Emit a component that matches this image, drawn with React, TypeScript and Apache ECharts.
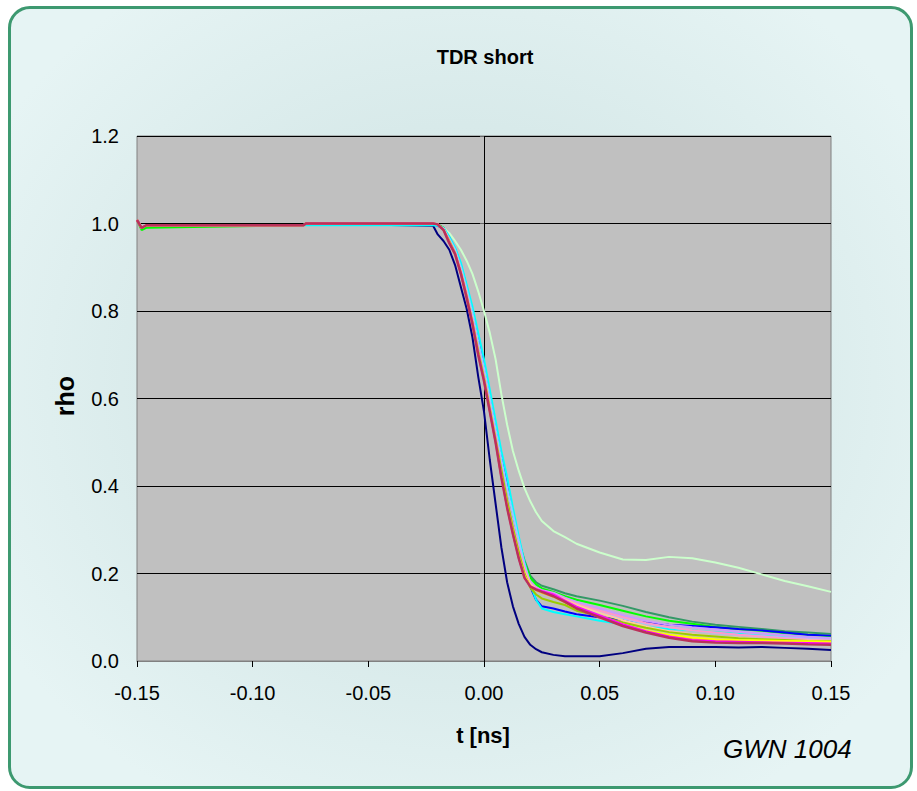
import React, { useEffect, useRef } from "react";
import * as echarts from "echarts";

const xs = [-0.15, -0.148, -0.146, -0.078, -0.077, -0.022, -0.02, -0.0175, -0.015, -0.0125, -0.01, -0.0075, -0.005, -0.0025, 0, 0.0025, 0.005, 0.0075, 0.01, 0.0125, 0.015, 0.0175, 0.02, 0.0225, 0.025, 0.03, 0.035, 0.04, 0.05, 0.06, 0.07, 0.08, 0.09, 0.1, 0.11, 0.12, 0.13, 0.14, 0.15];

const paleGreen = [1.008, 0.99, 0.996, 0.996, 1.0, 1.0, 0.998, 0.99, 0.978, 0.96, 0.94, 0.915, 0.885, 0.845, 0.8, 0.75, 0.69, 0.61, 0.54, 0.48, 0.435, 0.395, 0.365, 0.34, 0.32, 0.297, 0.283, 0.268, 0.248, 0.232, 0.231, 0.238, 0.235, 0.225, 0.213, 0.198, 0.183, 0.171, 0.158];
const navy = [1.008, 0.99, 0.996, 0.996, 1.0, 0.995, 0.975, 0.96, 0.94, 0.905, 0.855, 0.805, 0.74, 0.65, 0.57, 0.46, 0.36, 0.26, 0.18, 0.125, 0.085, 0.055, 0.037, 0.027, 0.02, 0.014, 0.011, 0.011, 0.011, 0.018, 0.028, 0.032, 0.032, 0.032, 0.031, 0.032, 0.03, 0.028, 0.025];
const seaGreen = [1.008, 0.99, 0.996, 0.996, 1.0, 1.0, 0.998, 0.99, 0.965, 0.94, 0.9, 0.85, 0.795, 0.73, 0.67, 0.6, 0.53, 0.46, 0.39, 0.33, 0.275, 0.23, 0.195, 0.18, 0.172, 0.164, 0.155, 0.148, 0.138, 0.126, 0.112, 0.1, 0.09, 0.083, 0.078, 0.073, 0.068, 0.065, 0.062];
const green = [1.008, 0.985, 0.99, 0.996, 1.0, 1.0, 0.998, 0.99, 0.962, 0.937, 0.895, 0.845, 0.79, 0.725, 0.665, 0.595, 0.525, 0.455, 0.385, 0.325, 0.27, 0.225, 0.19, 0.175, 0.166, 0.158, 0.148, 0.14, 0.128, 0.115, 0.102, 0.092, 0.085, 0.078, 0.073, 0.069, 0.064, 0.06, 0.057];
const blue = [1.008, 0.99, 0.996, 0.996, 1.0, 0.998, 0.995, 0.988, 0.968, 0.942, 0.905, 0.855, 0.8, 0.74, 0.68, 0.61, 0.54, 0.47, 0.405, 0.34, 0.275, 0.215, 0.17, 0.14, 0.125, 0.12, 0.113, 0.107, 0.1, 0.094, 0.088, 0.083, 0.08, 0.077, 0.073, 0.07, 0.065, 0.06, 0.058];
const cyan = [1.008, 0.99, 0.996, 0.996, 0.996, 0.996, 0.995, 0.99, 0.97, 0.945, 0.91, 0.86, 0.81, 0.75, 0.69, 0.62, 0.55, 0.48, 0.42, 0.35, 0.285, 0.225, 0.175, 0.14, 0.12, 0.112, 0.107, 0.102, 0.092, 0.084, 0.078, 0.073, 0.07, 0.066, 0.062, 0.058, 0.054, 0.051, 0.048];
const skyBlue = [1.008, 0.99, 0.996, 0.996, 1.0, 1.0, 0.997, 0.988, 0.965, 0.94, 0.9, 0.85, 0.795, 0.73, 0.67, 0.6, 0.53, 0.46, 0.395, 0.335, 0.275, 0.22, 0.178, 0.163, 0.156, 0.148, 0.137, 0.126, 0.111, 0.097, 0.085, 0.077, 0.07, 0.064, 0.06, 0.057, 0.054, 0.052, 0.05];
const lavender = [1.008, 0.99, 0.996, 0.996, 1.0, 1.0, 0.998, 0.988, 0.962, 0.935, 0.893, 0.84, 0.782, 0.715, 0.655, 0.585, 0.515, 0.445, 0.375, 0.315, 0.26, 0.215, 0.18, 0.168, 0.162, 0.156, 0.145, 0.135, 0.12, 0.105, 0.092, 0.083, 0.077, 0.072, 0.067, 0.063, 0.059, 0.055, 0.052];
const rose = [1.008, 0.99, 0.996, 0.996, 1.0, 1.0, 0.998, 0.987, 0.96, 0.933, 0.89, 0.837, 0.778, 0.71, 0.65, 0.58, 0.51, 0.44, 0.37, 0.31, 0.255, 0.21, 0.177, 0.166, 0.16, 0.153, 0.142, 0.131, 0.115, 0.1, 0.087, 0.077, 0.07, 0.065, 0.06, 0.056, 0.052, 0.049, 0.047];
const tan = [1.008, 0.99, 0.996, 0.996, 1.0, 1.0, 0.998, 0.987, 0.959, 0.933, 0.889, 0.835, 0.776, 0.708, 0.648, 0.578, 0.508, 0.434, 0.364, 0.304, 0.25, 0.205, 0.175, 0.165, 0.159, 0.151, 0.14, 0.128, 0.11, 0.093, 0.079, 0.068, 0.061, 0.056, 0.053, 0.05, 0.048, 0.047, 0.046];
const lime = [1.008, 0.99, 0.996, 0.996, 1.0, 1.0, 0.998, 0.986, 0.96, 0.932, 0.888, 0.835, 0.775, 0.708, 0.648, 0.578, 0.508, 0.438, 0.368, 0.305, 0.25, 0.2, 0.168, 0.152, 0.143, 0.135, 0.128, 0.115, 0.103, 0.088, 0.076, 0.066, 0.06, 0.056, 0.052, 0.05, 0.048, 0.046, 0.045];
const gold = [1.008, 0.99, 0.996, 0.996, 1.0, 1.0, 0.998, 0.986, 0.957, 0.93, 0.886, 0.831, 0.771, 0.702, 0.642, 0.572, 0.502, 0.422, 0.352, 0.292, 0.237, 0.193, 0.17, 0.162, 0.156, 0.147, 0.134, 0.12, 0.1, 0.081, 0.067, 0.057, 0.05, 0.047, 0.045, 0.044, 0.043, 0.042, 0.041];
const yellow = [1.008, 0.99, 0.996, 0.996, 1.0, 1.0, 0.998, 0.986, 0.957, 0.931, 0.887, 0.832, 0.772, 0.703, 0.643, 0.573, 0.503, 0.423, 0.353, 0.293, 0.238, 0.195, 0.172, 0.164, 0.158, 0.15, 0.137, 0.123, 0.103, 0.084, 0.07, 0.06, 0.054, 0.05, 0.048, 0.047, 0.046, 0.045, 0.044];
const magenta = [1.008, 0.99, 0.996, 0.996, 1.0, 1.0, 0.998, 0.986, 0.956, 0.931, 0.886, 0.831, 0.771, 0.701, 0.641, 0.571, 0.501, 0.421, 0.351, 0.291, 0.236, 0.191, 0.171, 0.165, 0.16, 0.152, 0.138, 0.124, 0.104, 0.084, 0.068, 0.056, 0.048, 0.045, 0.044, 0.043, 0.042, 0.041, 0.04];
const crimson = [1.008, 0.99, 0.996, 0.996, 1.0, 1.0, 0.998, 0.985, 0.955, 0.93, 0.885, 0.83, 0.77, 0.7, 0.64, 0.57, 0.5, 0.42, 0.35, 0.29, 0.235, 0.19, 0.17, 0.163, 0.158, 0.148, 0.135, 0.12, 0.1, 0.08, 0.065, 0.053, 0.045, 0.042, 0.041, 0.041, 0.04, 0.038, 0.037];

const seriesList: [string, number[], string, number][] = [
  ["pale green", paleGreen, "#CCFFCC", 2],
  ["navy", navy, "#000080", 2],
  ["sea green", seaGreen, "#339966", 2],
  ["green", green, "#00FF00", 2],
  ["blue", blue, "#0000FF", 2],
  ["cyan", cyan, "#00FFFF", 2],
  ["sky blue", skyBlue, "#99CCFF", 2],
  ["lavender", lavender, "#CC99FF", 2],
  ["rose", rose, "#FF99CC", 2],
  ["tan", tan, "#FFCC99", 2],
  ["lime", lime, "#99CC00", 2],
  ["gold", gold, "#FFCC00", 2],
  ["yellow", yellow, "#FFFF00", 2],
  ["magenta", magenta, "#FF00FF", 2],
  ["crimson", crimson, "#B9325A", 2.5],
];

const xTicks = { min: -0.15, max: 0.15, interval: 0.05 };
const yTicks = { min: 0, max: 1.2, interval: 0.2 };

const FONT = "'Liberation Sans', Arial, sans-serif";

export default function App() {
  const ref = useRef<HTMLDivElement>(null);
  useEffect(() => {
    if (!ref.current) return;
    const chart = echarts.init(ref.current, null, { renderer: "svg" });
    const series: any[] = seriesList.map(([name, ys, color, w], i) => ({
      name,
      type: "line",
      data: xs.map((x, k) => [x, ys[k]]),
      showSymbol: false,
      symbol: "none",
      lineStyle: { color, width: w },
      itemStyle: { color },
      z: 2 + i,
      ...(i === 0
        ? {
            markLine: {
              silent: true,
              symbol: "none",
              label: { show: false },
              lineStyle: { color: "#000", width: 1, type: "solid" },
              data: [{ xAxis: 0 }],
              z: 1,
            },
          }
        : {}),
    }));
    chart.setOption({
      animation: false,
      backgroundColor: "transparent",
      grid: {
        left: 137,
        top: 136,
        width: 694,
        height: 525,
        show: true,
        backgroundColor: "#C0C0C0",
        borderColor: "#808080",
        borderWidth: 1,
        containLabel: false,
        outerBoundsMode: "none",
      },
      xAxis: {
        type: "value",
        min: xTicks.min,
        max: xTicks.max,
        interval: xTicks.interval,
        axisLine: { show: true, onZero: false, lineStyle: { color: "#808080", width: 1 } },
        axisTick: { show: true, inside: false, length: 6, lineStyle: { color: "#000" } },
        splitLine: { show: false },
        axisLabel: {
          margin: 22,
          fontSize: 20,
          fontFamily: FONT,
          color: "#000",
          formatter: (v: number) => v.toFixed(2),
        },
      },
      yAxis: {
        type: "value",
        min: yTicks.min,
        max: yTicks.max,
        interval: yTicks.interval,
        axisLine: { show: false },
        axisTick: { show: true, length: 4, lineStyle: { color: "#666" } },
        splitLine: { show: true, lineStyle: { color: "#000", width: 1 } },
        axisLabel: {
          margin: 18,
          fontSize: 20,
          fontFamily: FONT,
          color: "#000",
          formatter: (v: number) => v.toFixed(1),
        },
      },
      graphic: [
        {
          type: "text",
          x: 485,
          y: 57,
          style: { text: "TDR short", font: `bold 20px ${FONT}`, fill: "#000", textAlign: "center", textVerticalAlign: "middle" },
        },
        {
          type: "text",
          x: 65,
          y: 396,
          rotation: Math.PI / 2,
          style: { text: "rho", font: `bold 25px ${FONT}`, fill: "#000", textAlign: "center", textVerticalAlign: "middle" },
        },
        {
          type: "text",
          x: 483,
          y: 735,
          style: { text: "t [ns]", font: `bold 22px ${FONT}`, fill: "#000", textAlign: "center", textVerticalAlign: "middle" },
        },
        {
          type: "text",
          x: 723,
          y: 749,
          style: { text: "GWN 1004", font: `italic 26px ${FONT}`, fill: "#000", textAlign: "left", textVerticalAlign: "middle" },
        },
      ],
      series,
    });
    return () => chart.dispose();
  }, []);

  return (
    <div style={{ position: "fixed", left: 0, top: 0, width: 917, height: 791, background: "#fff" }}>
      <div
        style={{
          position: "absolute",
          left: 8,
          top: 6,
          width: 905,
          height: 783,
          boxSizing: "border-box",
          border: "3px solid #3D9970",
          borderRadius: 22,
          background: "radial-gradient(ellipse at 50% 48%, #CEE2E2 0%, #D8EAEA 45%, #E6F4F4 85%)",
        }}
      />
      <div ref={ref} style={{ position: "absolute", left: 0, top: 0, width: 917, height: 791 }} />
    </div>
  );
}
